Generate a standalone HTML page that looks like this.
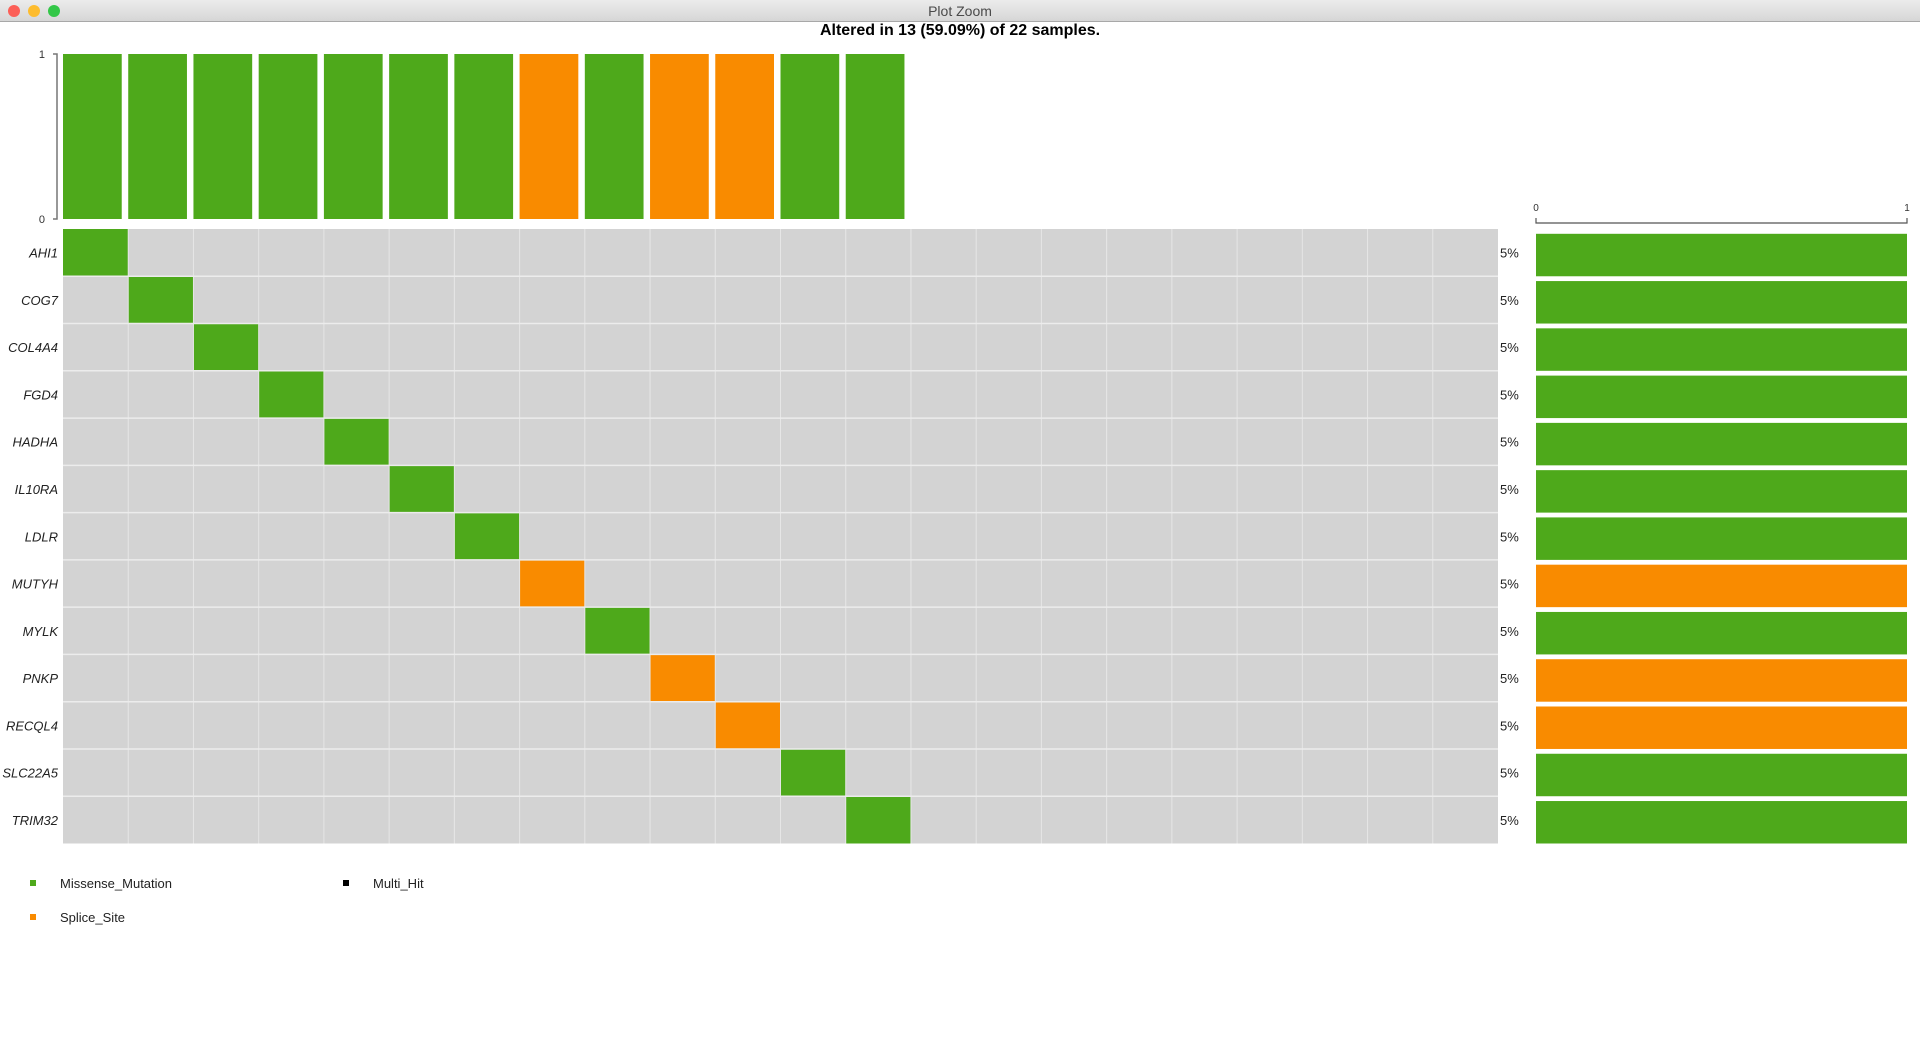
<!DOCTYPE html>
<html><head><meta charset="utf-8"><title>Plot Zoom</title>
<style>
html,body{margin:0;padding:0;background:#fff;width:1920px;height:1057px;overflow:hidden;font-family:"Liberation Sans",Arial,sans-serif;}
#titlebar{position:absolute;left:0;top:0;width:1920px;height:21px;background:linear-gradient(#ececec,#d6d6d6);border-bottom:1px solid #a8a8a8;}
.dot{position:absolute;top:5px;width:12px;height:12px;border-radius:50%;}
#win-title{position:absolute;left:0;width:1920px;top:3px;text-align:center;font-size:14px;color:#4a4a4a;}
svg{position:absolute;left:0;top:0;}
</style></head>
<body>
<div id="titlebar">
  <div class="dot" style="left:8px;background:#fc5f57"></div>
  <div class="dot" style="left:28px;background:#fdbc2e"></div>
  <div class="dot" style="left:48px;background:#33c748"></div>
  <div id="win-title">Plot Zoom</div>
</div>
<svg id="chart" width="1920" height="1057">
  <text x="960" y="35" text-anchor="middle" font-size="16" font-weight="bold" fill="#000">Altered in 13 (59.09%) of 22 samples.</text>
  <g id="topbars"></g>
  <g id="grid"></g>
  <g id="rightbars"></g>
  <g id="legend"></g>
</svg>
<script>
const genes = ["AHI1","COG7","COL4A4","FGD4","HADHA","IL10RA","LDLR","MUTYH","MYLK","PNKP","RECQL4","SLC22A5","TRIM32"];
const geneSample = [0,1,2,3,4,5,6,7,8,9,10,11,12];
const geneType = ["Missense_Mutation","Missense_Mutation","Missense_Mutation","Missense_Mutation","Missense_Mutation","Missense_Mutation","Missense_Mutation","Splice_Site","Missense_Mutation","Splice_Site","Splice_Site","Missense_Mutation","Missense_Mutation"];
const genePct = ["5%","5%","5%","5%","5%","5%","5%","5%","5%","5%","5%","5%","5%"];
const geneFrac = [1,1,1,1,1,1,1,1,1,1,1,1,1];
const sampleValues = [1,1,1,1,1,1,1,1,1,1,1,1,1];
const sampleType = ["Missense_Mutation","Missense_Mutation","Missense_Mutation","Missense_Mutation","Missense_Mutation","Missense_Mutation","Missense_Mutation","Splice_Site","Missense_Mutation","Splice_Site","Splice_Site","Missense_Mutation","Missense_Mutation"];
const nSamples = 22;
const topTicks = [0,1];
const rightTicks = [0,1];
const legendItems = ["Missense_Mutation","Splice_Site","Multi_Hit"];
const colors = {Missense_Mutation:"#4ea91b",Splice_Site:"#f98b00",Multi_Hit:"#000000"};

const NS="http://www.w3.org/2000/svg";
function mk(tag,attrs,parent){const e=document.createElementNS(NS,tag);for(const k in attrs)e.setAttribute(k,attrs[k]);parent.appendChild(e);return e;}
const gx0=63,gx1=1498,gy0=229,gy1=843.5;
const cw=(gx1-gx0)/nSamples, rh=(gy1-gy0)/genes.length;
const xCol=i=>gx0+i*cw, yRow=j=>gy0+j*rh;
// top bar axis
const ty0=54,ty1=219;
const yTop=v=>ty1-(ty1-ty0)*v;
const tb=document.getElementById('topbars');
const ax=mk('path',{d:`M53 ${yTop(1)} H57 V${yTop(0)} H53`,stroke:'#777',fill:'none','stroke-width':1.5},tb);


topTicks.forEach(t=>{const tx=mk('text',{x:45,y:yTop(t)+4,'text-anchor':'end','font-size':11,fill:'#333'},tb);tx.textContent=t;

});
sampleValues.forEach((v,i)=>{const r=mk('rect',{x:xCol(i),y:yTop(v),width:cw-6.5,height:yTop(0)-yTop(v),fill:colors[sampleType[i]]},tb);

});
// grid
const g=document.getElementById('grid');
const bg=mk('rect',{x:gx0,y:gy0,width:gx1-gx0,height:gy1-gy0,fill:'#d3d3d3'},g);


genes.forEach((gn,j)=>{
  const c=mk('rect',{x:xCol(geneSample[j]),y:yRow(j),width:cw,height:rh,fill:colors[geneType[j]]},g);
  
  
  const t=mk('text',{x:58,y:yRow(j)+rh/2+5,'text-anchor':'end','font-size':13,'font-style':'italic',fill:'#222'},g);t.textContent=gn;
  
  
  const p=mk('text',{x:1500,y:yRow(j)+rh/2+5,'font-size':13,fill:'#222'},g);p.textContent=genePct[j];
  
  
});
for(let i=1;i<nSamples;i++){const l=mk('line',{x1:xCol(i),x2:xCol(i),y1:gy0,y2:gy1,stroke:'#e6e6e6','stroke-width':1},g);

}
for(let j=1;j<genes.length;j++){const l=mk('line',{x1:gx0,x2:gx1,y1:yRow(j),y2:yRow(j),stroke:'#ececec','stroke-width':1.5},g);

}
// right bars
const rx0=1536,rx1=1907;
const xR=v=>rx0+(rx1-rx0)*v;
const rb=document.getElementById('rightbars');
const rax=mk('path',{d:`M${xR(0)} 218 V223 H${xR(1)} V218`,stroke:'#555',fill:'none','stroke-width':1.2},rb);


rightTicks.forEach(t=>{const tx=mk('text',{x:xR(t),y:211,'text-anchor':'middle','font-size':10,fill:'#333'},rb);tx.textContent=t;

});
geneFrac.forEach((v,j)=>{const r=mk('rect',{x:xR(0),y:yRow(j)+4.8,width:xR(v)-xR(0),height:rh-4.8,fill:colors[geneType[j]]},rb);

});
// legend
const lg=document.getElementById('legend');
const lpos=[[33,883],[33,917],[346,883]];
legendItems.forEach((n,i)=>{const [x,y]=lpos[i];
  const s=mk('rect',{x:x-3,y:y-3,width:6,height:6,fill:colors[n]},lg);
  
  
  const t=mk('text',{x:x+27,y:y+5,'font-size':13,fill:'#222'},lg);t.textContent=n;
  
  
});
</script>
</body></html>
